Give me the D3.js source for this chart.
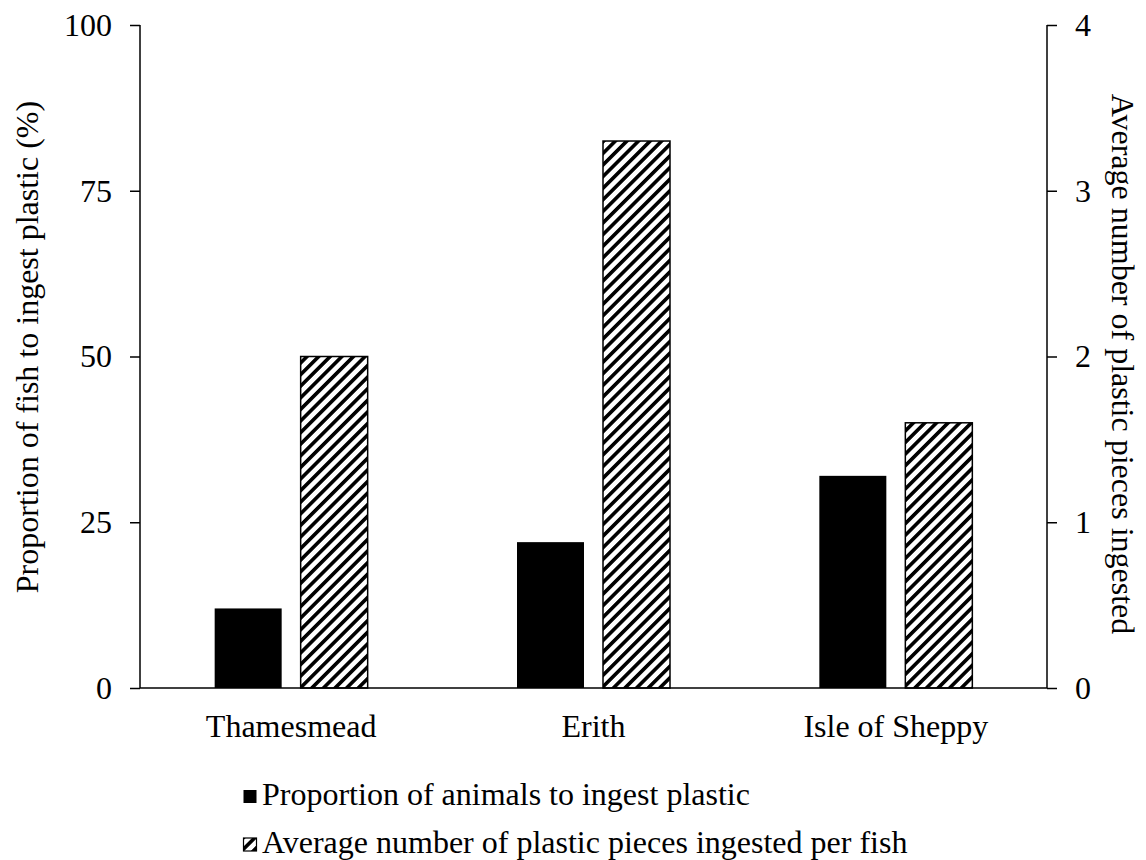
<!DOCTYPE html>
<html><head><meta charset="utf-8">
<script src="https://cdn.jsdelivr.net/npm/d3@7"></script>
<style>body{margin:0;background:#fff}svg{display:block}text{font-family:"Liberation Serif","Times New Roman","DejaVu Serif",serif;fill:#000}</style>
</head><body><svg id="c" width="1146" height="860"></svg>
<script>
const categories = ["Thamesmead", "Erith", "Isle of Sheppy"];
const proportionValues = [12, 22, 32];
const averageValues = [2.0, 3.3, 1.6];
const leftTicks = [0, 25, 50, 75, 100];
const rightTicks = [0, 1, 2, 3, 4];
const seriesNames = ["Proportion of animals to ingest plastic", "Average number of plastic pieces ingested per fish"];
const leftTitle = "Proportion of fish to ingest plastic (%)";
const rightTitle = "Average number of plastic pieces ingested";

const svg = d3.select("#c");
const L = 140, R = 1047, T = 25, B = 688;
const FS = 32;

const defs = svg.append("defs");
const pat = defs.append("pattern").attr("id","hatch").attr("patternUnits","userSpaceOnUse")
  .attr("width",8.2).attr("height",8.2).attr("patternTransform","rotate(45)");
pat.append("rect").attr("width",8.2).attr("height",8.2).attr("fill","#fff");
pat.append("rect").attr("width",3.6).attr("height",8.2).attr("fill","#000");

const x = d3.scaleBand().domain(categories).range([L, R]);
const yL = d3.scaleLinear().domain([0,100]).range([B, T]);
const yR = d3.scaleLinear().domain([0,4]).range([B, T]);
const bw = 67, gap = 19;

const g = svg.append("g");
g.selectAll(".b1").data(categories).join("rect")
  .attr("x", d => x(d) + x.bandwidth()/2 - gap/2 - bw)
  .attr("y", (d,i) => yL(proportionValues[i]))
  .attr("width", bw).attr("height", (d,i) => B - yL(proportionValues[i]))
  .attr("fill", "#000");
g.selectAll(".b2").data(categories).join("rect")
  .attr("x", d => x(d) + x.bandwidth()/2 + gap/2)
  .attr("y", (d,i) => yR(averageValues[i]))
  .attr("width", bw).attr("height", (d,i) => B - yR(averageValues[i]))
  .attr("fill", "url(#hatch)").attr("stroke","#000").attr("stroke-width",1.5);

// axes
const axL = svg.append("g").attr("transform",`translate(${L},0)`)
  .call(d3.axisLeft(yL).tickValues(leftTicks).tickFormat(d3.format("d")).tickSize(10).tickPadding(18));
const axR = svg.append("g").attr("transform",`translate(${R},0)`)
  .call(d3.axisRight(yR).tickValues(rightTicks).tickFormat(d3.format("d")).tickSize(10).tickPadding(18));
[axL, axR].forEach(a => {
  a.attr("font-family", null);
  a.select(".domain").attr("stroke","#000").attr("stroke-width",1.5).attr("d", `M0,${T}V${B}`);
  a.selectAll(".tick line").attr("stroke","#000").attr("stroke-width",1.5);
  a.selectAll(".tick text").attr("font-size",FS).attr("fill","#000");
});
// baseline
svg.append("line").attr("x1",L).attr("x2",R).attr("y1",B).attr("y2",B).attr("stroke","#000").attr("stroke-width",1.5);

// category labels
const axB = svg.append("g").attr("transform",`translate(0,${B})`)
  .call(d3.axisBottom(x).tickSize(0).tickPadding(26));
axB.attr("font-family", null);
axB.select(".domain").remove();
axB.selectAll(".tick text").attr("font-size",FS).attr("fill","#000");

// titles
svg.append("text").attr("transform",`translate(38,347) rotate(-90)`)
  .attr("text-anchor","middle").attr("font-size",FS).text(leftTitle);
svg.append("text").attr("transform",`translate(1112,364) rotate(90)`)
  .attr("text-anchor","middle").attr("font-size",FS).text(rightTitle);

// legend
const leg = svg.append("g");
const legBase = [805, 853];
seriesNames.forEach((n,i) => {
  const yy = legBase[i];
  leg.append("rect").attr("x",243.5).attr("y",yy-15).attr("width",13).attr("height",13)
    .attr("fill", i===0 ? "#000" : "url(#hatch)").attr("stroke","#000").attr("stroke-width", i===0?0:1.2);
  leg.append("text").attr("x",262).attr("y",yy).attr("font-size",FS).text(n);
});
</script></body></html>
